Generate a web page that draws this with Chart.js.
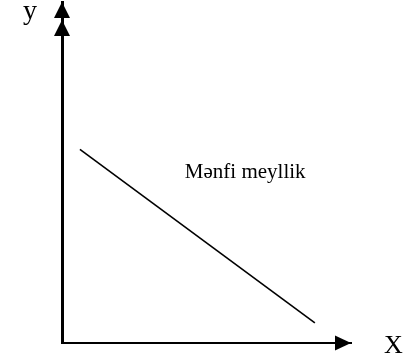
<!DOCTYPE html>
<html>
<head>
<meta charset="utf-8">
<script src="https://cdn.jsdelivr.net/npm/chart.js@4.4.1/dist/chart.umd.min.js"></script>
<style>
  html, body { margin: 0; padding: 0; background: #fff; }
  #wrap { width: 416px; height: 360px; }
</style>
</head>
<body>
<div id="wrap"><canvas id="demand-chart" width="416" height="360"></canvas></div>
<script>
// line with negative slope, in axis units (0..100)
var arrX = [6.2, 87.5];
var arrY = [56.8, 5.9];
var lineLabel = 'Mənfi meyllik';
var labelPos = [42.5, 48.5];
var axisNameX = 'X';
var axisNameY = 'y';

var arrowPlugin = {
    id: 'axisArrows',
    afterDraw: function (chart) {
        var ctx = chart.ctx;
        var area = chart.chartArea;
        var sx = chart.scales.x, sy = chart.scales.y;
        var x0 = sx.getPixelForValue(0);
        var y0 = sy.getPixelForValue(0);
        ctx.save();
        ctx.fillStyle = '#000';
        // double arrow on top of y axis
        [area.top, area.top + 18].forEach(function (tip) {
            ctx.beginPath();
            ctx.moveTo(x0, tip);
            ctx.lineTo(x0 - 8, tip + 16);
            ctx.lineTo(x0 + 8, tip + 16);
            ctx.closePath();
            ctx.fill();
        });
        // arrow at end of x axis
        ctx.beginPath();
        ctx.moveTo(area.right, y0);
        ctx.lineTo(area.right - 16, y0 - 7.5);
        ctx.lineTo(area.right - 16, y0 + 7.5);
        ctx.closePath();
        ctx.fill();

        ctx.textBaseline = 'alphabetic';
        ctx.font = '28px "Liberation Serif"';
        ctx.fillText(axisNameY, x0 - 39, area.top + 17);
        ctx.font = '26px "Liberation Serif"';
        ctx.fillText(axisNameX, area.right + 33, y0 + 10);
        ctx.font = '21px "Liberation Serif"';
        ctx.fillText(lineLabel, sx.getPixelForValue(labelPos[0]), sy.getPixelForValue(labelPos[1]));
        ctx.restore();
    }
};

var config = {
    type: 'line',
    data: {
        datasets: [{
            data: arrX.map(function (v, i) { return { x: v, y: arrY[i] }; }),
            borderColor: '#000',
            borderWidth: 1.6,
            pointRadius: 0,
            fill: false
        }]
    },
    options: {
        responsive: false,
        animation: false,
        layout: { padding: { left: 54, top: 2, right: 65, bottom: 9 } },
        plugins: { legend: { display: false }, tooltip: { enabled: false } },
        scales: {
            x: {
                type: 'linear', min: 0, max: 100,
                grid: { display: false },
                ticks: { display: false },
                border: { display: true, color: '#000', width: 2 }
            },
            y: {
                type: 'linear', min: 0, max: 100,
                grid: { display: false },
                ticks: { display: false },
                border: { display: true, color: '#000', width: 3 }
            }
        }
    },
    plugins: [arrowPlugin]
};

var myChart = new Chart(document.getElementById('demand-chart').getContext('2d'), config);
</script>
</body>
</html>
